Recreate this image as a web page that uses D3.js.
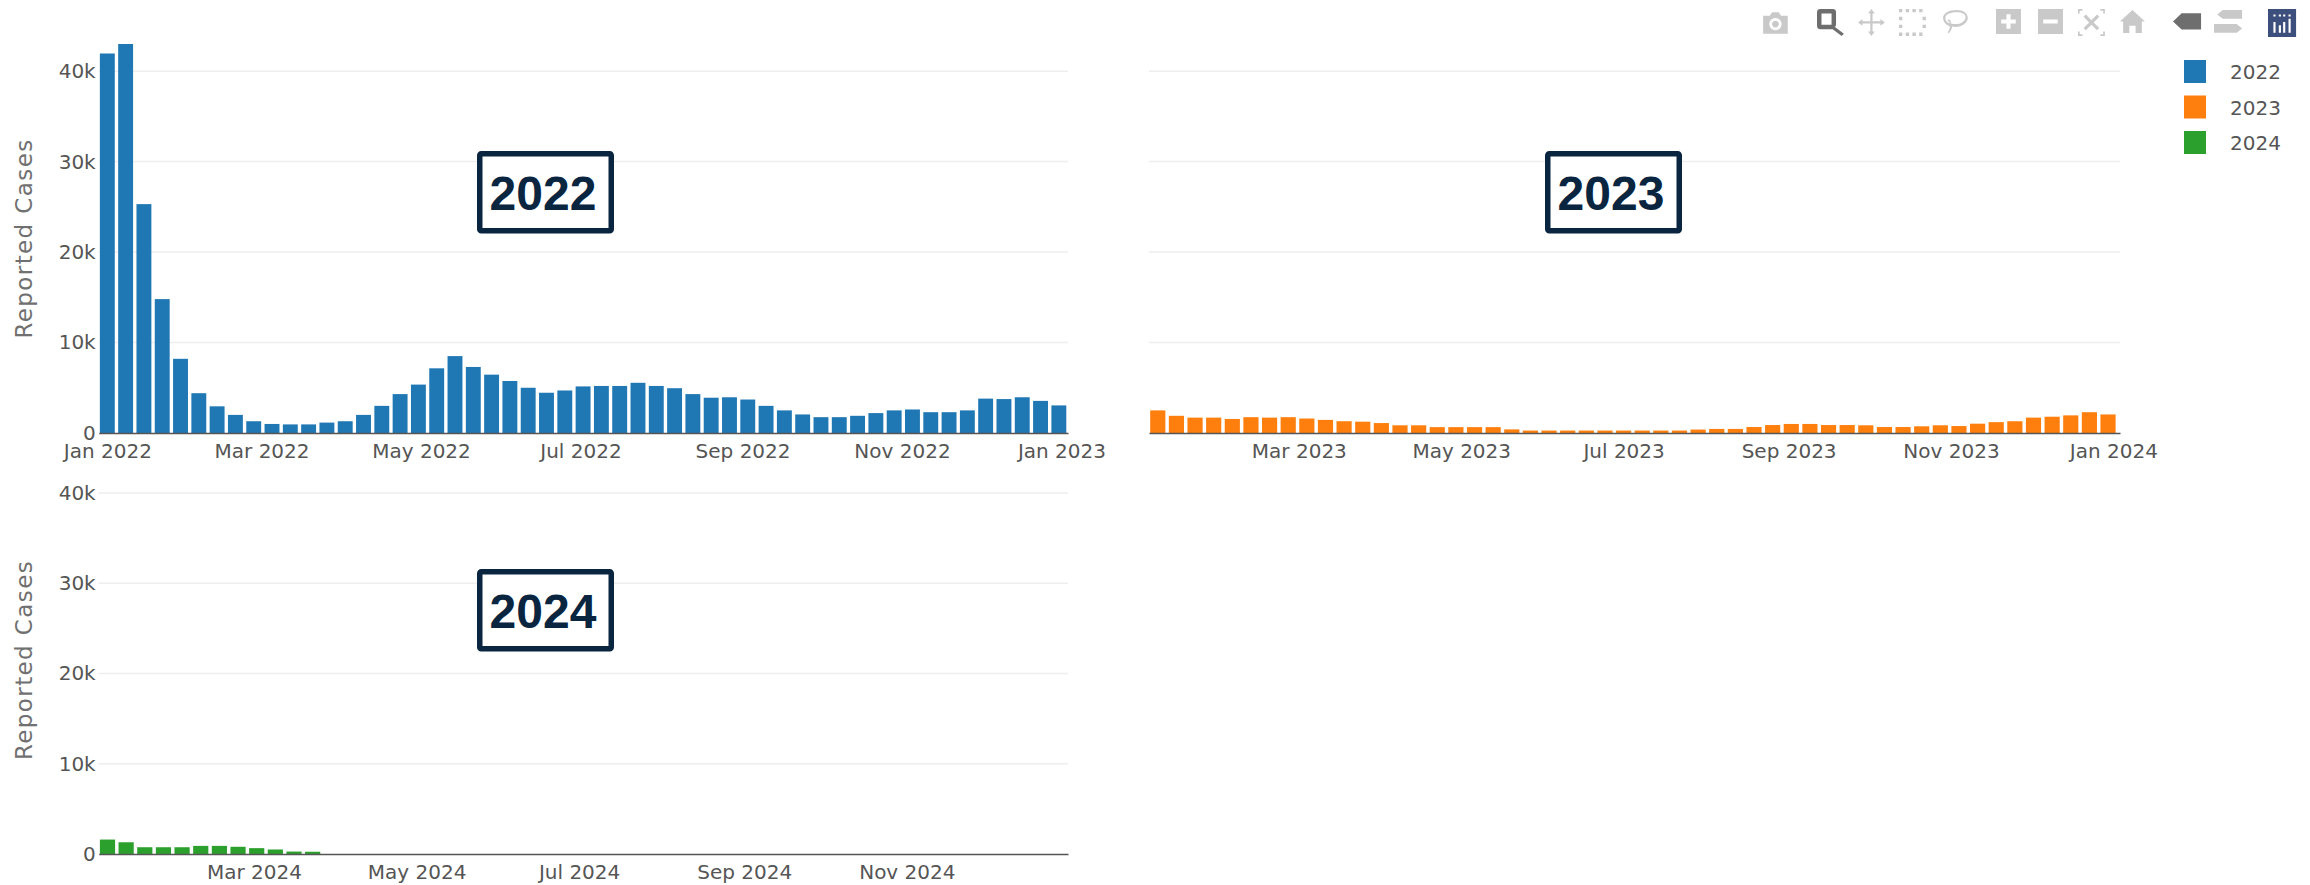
<!DOCTYPE html>
<html lang="en">
<head>
    <meta charset="UTF-8">
    <title>Reported Cases by Year</title>
    <script src="https://cdn.jsdelivr.net/npm/d3@7/dist/d3.min.js"></script>
    <style>
        html, body { margin: 0; padding: 0; background: #fff; }
        svg { display: block; }
        .tick-label { font-family: "DejaVu Sans", sans-serif; font-size: 20px; fill: #555; }
        .y-title { font-family: "DejaVu Sans", sans-serif; font-size: 23px; fill: #707070; letter-spacing: 1.4px; }
        .legend-label { font-family: "DejaVu Sans", sans-serif; font-size: 20px; fill: #555; }
        .year-label { font-family: "Liberation Sans", sans-serif; font-size: 48px; font-weight: bold; fill: #0a2540; }
    </style>
</head>
<body>
<script>
    // weekly values
    const cases2022 = [41950, 43000, 25300, 14800, 8200, 4400, 2950, 2000, 1300, 1000, 950, 950, 1150, 1300, 2000, 3000,
        4300, 5350, 7150, 8500, 7300, 6450, 5750, 5000, 4450, 4700, 5150, 5200, 5200, 5550, 5200, 4950, 4300, 3900,
        3950, 3700, 3000, 2500, 2050, 1750, 1750, 1900, 2200, 2500, 2600, 2300, 2300, 2500, 3800, 3750, 3950, 3550, 3050];
    const cases2023 = [2500, 1900, 1700, 1700, 1550, 1750, 1700, 1750, 1600, 1450, 1300, 1250, 1100, 850, 850, 650,
        650, 650, 650, 400, 270, 270, 270, 270, 270, 270, 270, 270, 270, 380, 450, 450, 660, 880, 1000, 1000, 880, 880,
        850, 660, 660, 740, 850, 770, 1030, 1200, 1300, 1700, 1800, 1950, 2300, 2050];
    const cases2024 = [1600, 1300, 750, 750, 750, 900, 900, 800, 650, 500, 270, 250];

    const years = ['2022', '2023', '2024'];
    const colors = ['#1f77b4', '#ff7f0e', '#2ca02c'];
    const yTicks = [0, 10000, 20000, 30000, 40000];
    const monthTicks2022 = ['2022-01-01', '2022-03-01', '2022-05-01', '2022-07-01', '2022-09-01', '2022-11-01', '2023-01-01'];
    const monthTicks2023 = ['2023-03-01', '2023-05-01', '2023-07-01', '2023-09-01', '2023-11-01', '2024-01-01'];
    const monthTicks2024 = ['2024-03-01', '2024-05-01', '2024-07-01', '2024-09-01', '2024-11-01'];

    const width = 2310;
    const height = 885;
    const day = 86400000;

    let svg = d3.select('body').append('svg')
        .attr('width', width)
        .attr('height', height);

    // one panel per year; firstWeek is the first week-ending Saturday
    const panels = [
        {name: years[0], color: colors[0], values: cases2022, firstWeek: '2022-01-01', ticks: monthTicks2022,
            left: 98.7, right: 1068, top: 44, bottom: 433, yLabels: true, lastDay: '2023-01-03',
            box: [477, 151]},
        {name: years[1], color: colors[1], values: cases2023, firstWeek: '2023-01-07', ticks: monthTicks2023,
            left: 1149, right: 2120, top: 44, bottom: 433, yLabels: false, lastDay: '2024-01-03',
            box: [1545, 151]},
        {name: years[2], color: colors[2], values: cases2024, firstWeek: '2024-01-06', ticks: monthTicks2024,
            left: 98.7, right: 1068, top: 466, bottom: 854, yLabels: true, lastDay: '2024-12-31',
            box: [477, 569]}
    ];

    panels.forEach(drawPanel);
    drawLegend();
    drawModebar();

    function drawPanel (p) {
        const first = new Date(p.firstWeek + 'T00:00:00Z');
        const dates = p.values.map((v, i) => d3.utcDay.offset(first, i * 7));

        const x = d3.scaleUtc()
            .domain([new Date(+first - 3.3 * day), new Date(p.lastDay + 'T12:00:00Z')])
            .range([p.left, p.right]);
        const y = d3.scaleLinear()
            .domain([0, 43000])
            .range([p.bottom, p.top]);

        let g = svg.append('g');

        // gridlines
        g.selectAll('line.grid')
            .data(yTicks.slice(1))
            .enter()
            .append('line')
            .attr('class', 'grid')
            .attr('x1', p.left)
            .attr('x2', p.right)
            .attr('y1', d => y(d))
            .attr('y2', d => y(d))
            .attr('stroke', '#eee')
            .attr('stroke-width', 1.5);

        // bars
        g.selectAll('rect.bar')
            .data(p.values)
            .enter()
            .append('rect')
            .attr('class', 'bar')
            .attr('x', (d, i) => x(new Date(+dates[i] - 2.85 * day)))
            .attr('width', (d, i) => x(new Date(+dates[i] + 2.85 * day)) - x(new Date(+dates[i] - 2.85 * day)))
            .attr('y', d => y(d))
            .attr('height', d => y(0) - y(d))
            .attr('fill', p.color);

        // x axis
        let xAxis = d3.axisBottom(x)
            .tickValues(p.ticks.map(d => new Date(d + 'T00:00:00Z')))
            .tickSize(0)
            .tickPadding(11)
            .tickFormat(d3.utcFormat('%b %Y'));
        let xg = g.append('g')
            .attr('transform', `translate(0,${p.bottom})`)
            .call(xAxis);
        xg.select('.domain').attr('stroke', '#555').attr('stroke-width', 1.5);
        xg.selectAll('text').attr('class', 'tick-label').attr('fill', null);

        // y axis, labels only on the left hand panels
        if (p.yLabels) {
            let yAxis = d3.axisLeft(y)
                .tickValues(yTicks)
                .tickSize(0)
                .tickPadding(3)
                .tickFormat(d => d === 0 ? '0' : (d / 1000) + 'k');
            let yg = g.append('g')
                .attr('transform', `translate(${p.left},0)`)
                .call(yAxis);
            yg.select('.domain').remove();
            yg.selectAll('text').attr('class', 'tick-label').attr('fill', null);

            g.append('text')
                .attr('class', 'y-title')
                .attr('text-anchor', 'middle')
                .attr('transform', `translate(32,${(p.top + p.bottom) / 2}) rotate(-90)`)
                .text('Reported Cases');
        }

        // year box
        let box = g.append('g').attr('transform', `translate(${p.box[0]},${p.box[1]})`);
        box.append('rect')
            .attr('x', 2.75)
            .attr('y', 2.75)
            .attr('width', 131.5)
            .attr('height', 77)
            .attr('rx', 1.5)
            .attr('fill', '#fff')
            .attr('stroke', '#0a2540')
            .attr('stroke-width', 5.5);
        box.append('text')
            .attr('class', 'year-label')
            .attr('x', 66)
            .attr('y', 59)
            .attr('text-anchor', 'middle')
            .text(p.name);
    }

    function drawLegend () {
        let legend = svg.append('g');
        let item = legend.selectAll('g')
            .data(years)
            .enter()
            .append('g')
            .attr('transform', (d, i) => `translate(2184,${60 + i * 35.5})`);
        item.append('rect')
            .attr('width', 22)
            .attr('height', 23)
            .attr('fill', (d, i) => colors[i]);
        item.append('text')
            .attr('class', 'legend-label')
            .attr('x', 46)
            .attr('y', 19)
            .text(d => d);
    }

    // toolbar icons, drawn in a 24x24 box
    function drawModebar () {
        const grey = '#c9c9c9';
        const dark = '#6e6e6e';
        const icons = [
            {x: 1762, s: 1.12, c: grey, d: 'M1 6h6l2-3h6l2 3h6v16H1z M12 8a5.500 5.500 0 1 0 .01 0z M12 10.500a3 3 0 1 1-.01 0z', rule: 'evenodd'},
            {x: 1817, s: 1.12, c: dark, d: 'M3 0h11a3 3 0 0 1 3 3v11a3 3 0 0 1-1 2l8 6-2 2-8-6H3a3 3 0 0 1-3-3V3a3 3 0 0 1 3-3z M4 4v10h9V4z', rule: 'evenodd'},
            {x: 1858, s: 1.12, c: grey, d: 'M12 0l3 4h-2v7h7V9l4 3-4 3v-2h-7v7h2l-3 4-3-4h2v-7H4v2l-4-3 4-3v2h7V4H9z'},
            {x: 1899, s: 1.12, c: grey, d: 'M0 0h3v3H0z M6 0h3v3H6z M12 0h3v3h-3z M18 0h3v3h-3z M0 7h3v3H0z M21 7h3v3h-3z M0 14h3v3H0z M21 14h3v3h-3z M0 21h3v3H0z M6 21h3v3H6z M12 21h3v3h-3z M18 21h3v3h-3z'},
            {x: 1942, s: 1.12, c: grey, d: 'M13 1c6 0 10 3 10 7s-5 8-11 8c-1 0-2 0-3-.3 0 2-1 4-3 6l-1-1c1-1 2-3 2-5.300C3 14 1 11 1 8c0-4 5-7 12-7z M13 3C7 3 3 5 3 8c0 2 1 4 4 5 0-2-2-2-2-3s3-1 3 3c1 .3 3 .5 4 .5 5 0 9-3 9-6 0-3-3-4.500-8-4.500z', rule: 'evenodd'},
            {x: 1996, s: 1.04, c: grey, d: 'M0 0h24v24H0z M10 5v5H5v4h5v5h4v-5h5v-4h-5V5z', rule: 'evenodd'},
            {x: 2038, s: 1.04, c: grey, d: 'M0 0h24v24H0z M5 10v4h14v-4z', rule: 'evenodd'},
            {x: 2078, s: 1.12, c: grey, d: 'M0 0h4v1.500H1.500V4H0z M20 0h4v4h-1.500V1.500H20z M0 20h1.500v2.500H4V24H0z M22.500 20H24v4h-4v-1.500h2.500z M7 5l5 5 5-5 2 2-5 5 5 5-2 2-5-5-5 5-2-2 5-5-5-5z'},
            {x: 2120, s: 1.04, c: grey, d: 'M12 1l12 11h-3v11h-6v-7H9v7H3V12H0z'},
            {x: 2173, s: 1.08, c: dark, d: 'M8 4h18v15H8L0 11.500z'},
            {x: 2214, s: 1.08, c: grey, d: 'M8 1h18v8H8L3 5z M0 14h21l5 4-5 4H0z'},
            {x: 2268, s: 1.08, c: '#3d4f7c', d: 'M0 0h26v26H0z M5 12h2v10H5z M10 15h2v7h-2z M14 12h2v10h-2z M19 9h2v13h-2z M5 5h2v2H5z M10 5h2v2h-2z M14 5h2v2h-2z M19 5h2v2h-2z', rule: 'evenodd'}
        ];
        svg.append('g')
            .selectAll('path')
            .data(icons)
            .enter()
            .append('path')
            .attr('d', d => d.d)
            .attr('fill', d => d.c)
            .attr('fill-rule', d => d.rule || 'nonzero')
            .attr('transform', d => `translate(${d.x},9) scale(${d.s})`);
    }
</script>
</body>
</html>
